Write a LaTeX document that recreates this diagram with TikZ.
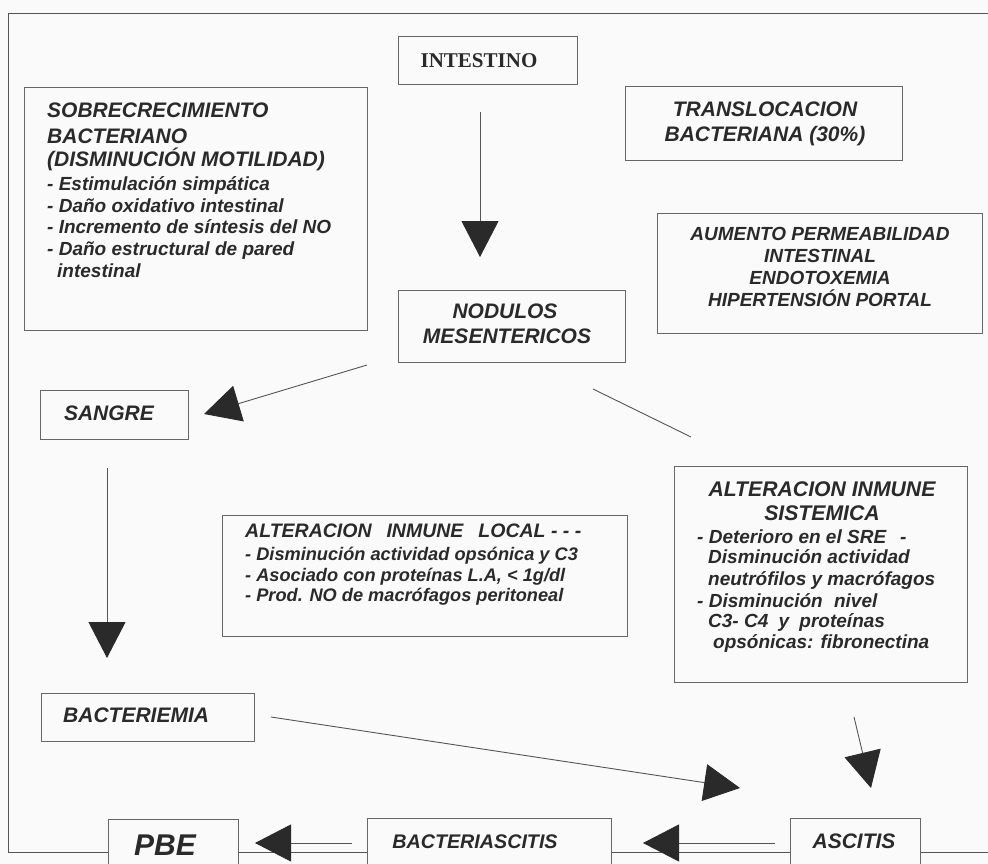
\documentclass[tikz,border=0pt]{standalone}
\usepackage{fontspec}
\setmainfont{Liberation Sans}
\newfontfamily\tnr{Liberation Serif}
\usetikzlibrary{arrows.meta}
\definecolor{ink}{HTML}{2A2A2A}
\definecolor{edge}{HTML}{666666}
\definecolor{wire}{HTML}{555555}
\definecolor{paper}{HTML}{FAFAFB}
\begin{document}
\begin{tikzpicture}[x=1pt,y=-1pt,
  box/.style={draw=edge, line width=1pt, fill=paper, inner sep=0pt},
  hdl/.style={anchor=base west, inner sep=0pt, text=ink, font=\fontsize{21}{24}\selectfont\bfseries\itshape},
  hdc/.style={anchor=base, inner sep=0pt, text=ink, font=\fontsize{21}{24}\selectfont\bfseries\itshape},
  lnl/.style={anchor=base west, inner sep=0pt, text=ink, font=\fontsize{19}{22}\selectfont\bfseries\itshape},
  lnc/.style={anchor=base, inner sep=0pt, text=ink, font=\fontsize{19}{22}\selectfont\bfseries\itshape},
  arr/.style={draw=wire, line width=0.9pt, -{Triangle[length=36pt,width=37pt,color=ink]}},
  wireline/.style={draw=wire, line width=0.9pt}]
\useasboundingbox (0,0) rectangle (988,864);
\clip (0,0) rectangle (988,864);
\fill[paper] (0,0) rectangle (988,864);
% outer frame
\draw[wireline] (988,13) -- (8,13) -- (8,852) -- (988,852);
% boxes
\node[box, minimum width=179pt, minimum height=48pt] (intest) at (487.5,61) {};
\node[box, minimum width=343pt, minimum height=242pt] (sobre) at (195.5,209) {};
\node[box, minimum width=277pt, minimum height=74pt] (transl) at (763.5,124) {};
\node[box, minimum width=325pt, minimum height=120pt] (aument) at (819.5,273) {};
\node[box, minimum width=227pt, minimum height=72pt] (nod) at (511.5,326) {};
\node[box, minimum width=148pt, minimum height=49pt] (sangre) at (114,414.5) {};
\node[box, minimum width=405pt, minimum height=121pt] (local) at (424.5,575.5) {};
\node[box, minimum width=293pt, minimum height=216pt] (sist) at (820.5,574) {};
\node[box, minimum width=213pt, minimum height=48pt] (bactm) at (147.5,717) {};
\node[box, minimum width=130pt, minimum height=71pt] (pbe) at (173,854.5) {};
\node[box, minimum width=244pt, minimum height=72pt] (bascit) at (489,854) {};
\node[box, minimum width=130pt, minimum height=72pt] (ascit) at (855,854) {};
% texts
\node[anchor=base, inner sep=0pt, text=ink, font=\tnr\fontsize{21}{24}\selectfont\bfseries] (tI) at (479,68) {INTESTINO};
\node[hdl] (s1) at (47,118) {SOBRECRECIMIENTO};
\node[hdl] (s2) at (47,143) {BACTERIANO};
\node[hdl] (s3) at (47,167) {(DISMINUCIÓN MOTILIDAD)};
\node[lnl] (s4) at (47,190) {- Estimulación simpática};
\node[lnl] (s5) at (47,212) {- Daño oxidativo intestinal};
\node[lnl] (s6) at (47,233) {- Incremento de síntesis del NO};
\node[lnl] (s7) at (47,255) {- Daño estructural de pared};
\node[lnl] (s8) at (57,277) {intestinal};
\node[hdc] (t1) at (765,117) {TRANSLOCACION};
\node[hdc] (t2) at (765,142) {BACTERIANA (30\%)};
\node[lnc] (a1) at (820,240) {AUMENTO PERMEABILIDAD};
\node[lnc] (a2) at (820,262) {INTESTINAL};
\node[lnc] (a3) at (820,284) {ENDOTOXEMIA};
\node[lnc] (a4) at (820,306) {HIPERTENSIÓN PORTAL};
\node[hdc] (n1) at (505,318) {NODULOS};
\node[hdc] (n2) at (507,343) {MESENTERICOS};
\node[hdc] (sg) at (109,420) {SANGRE};
\node[hdl, font=\fontsize{19.5}{22}\selectfont\bfseries\itshape] (l1) at (245,537) {ALTERACION\hspace{15pt}INMUNE\hspace{15pt}LOCAL - - -};
\node[lnl, font=\fontsize{18.2}{22}\selectfont\bfseries\itshape] (l2) at (245,560) {- Disminución actividad opsónica y C3};
\node[lnl, font=\fontsize{18.2}{22}\selectfont\bfseries\itshape] (l3) at (245,581) {- Asociado con proteínas L.A, < 1g/dl};
\node[lnl, font=\fontsize{18.2}{22}\selectfont\bfseries\itshape] (l4) at (245,601) {- Prod. NO de macrófagos peritoneal};
\node[hdc, font=\fontsize{21.2}{24}\selectfont\bfseries\itshape] (m1) at (822,496) {ALTERACION INMUNE};
\node[hdc, font=\fontsize{21.2}{24}\selectfont\bfseries\itshape] (m2) at (822,520) {SISTEMICA};
\node[lnl] (m3) at (697,543) {- Deterioro en el SRE\hspace{14pt}-};
\node[lnl] (m4) at (708,563) {Disminución actividad};
\node[lnl] (m5) at (708,585) {neutrófilos y macrófagos};
\node[lnl] (m6) at (697,607) {- Disminución\hspace{6pt} nivel};
\node[lnl] (m7) at (708,627) {C3- C4\hspace{5pt} y\hspace{5pt} proteínas};
\node[lnl] (m8) at (713,648) {opsónicas: fibronectina};
\node[hdl, font=\fontsize{21}{24}\selectfont\bfseries\itshape] (bt) at (63,722) {BACTERIEMIA};
\node[hdc, font=\fontsize{30}{34}\selectfont\bfseries\itshape] (pt) at (165,855) {PBE};
\node[lnc, font=\fontsize{19.7}{22}\selectfont\bfseries\itshape] (bst) at (475,848) {BACTERIASCITIS};
\node[hdc] (at) at (854,848) {ASCITIS};
% connector end points
\coordinate (c1a) at (480,112);  \coordinate (c1b) at (480,257);
\coordinate (c2a) at (367,365);  \coordinate (c2b) at (204,414);
\coordinate (c3a) at (593,389);  \coordinate (c3b) at (691,437);
\coordinate (c4a) at (107,468);  \coordinate (c4b) at (107,658);
\coordinate (c5a) at (271,717);  \coordinate (c5b) at (740,788);
\coordinate (c6a) at (854,717);  \coordinate (c6b) at (871,788);
\coordinate (c7a) at (775,843);  \coordinate (c7b) at (643,843);
\coordinate (c8a) at (352,843);  \coordinate (c8b) at (255,843);
% connectors
\draw[arr] (c1a) -- (c1b);
\draw[arr] (c2a) -- (c2b);
\draw[wireline] (c3a) -- (c3b);
\draw[arr] (c4a) -- (c4b);
\draw[arr] (c5a) -- (c5b);
\draw[arr] (c6a) -- (c6b);
\draw[arr] (c7a) -- (c7b);
\draw[arr] (c8a) -- (c8b);
\end{tikzpicture}
\end{document}
